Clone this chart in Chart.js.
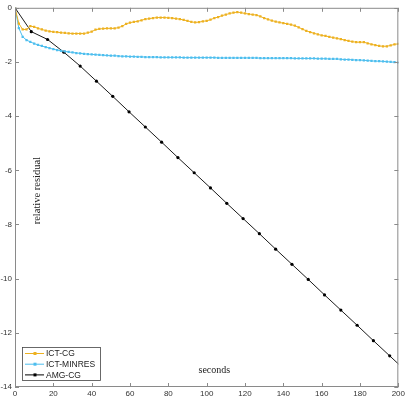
<!DOCTYPE html>
<html>
<head>
<meta charset="utf-8">
<script src="https://cdn.jsdelivr.net/npm/chart.js@4"></script>
<style>
  html, body { margin: 0; padding: 0; background: #fff; }
  #wrap { width: 407px; height: 399px; }
</style>
</head>
<body>
<div id="wrap"><canvas id="res"></canvas></div>
<script>
// time (s) for the ICT runs
var ictTime = [0, 2, 4, 6, 8, 10, 12, 14, 16, 18, 20, 22, 24, 26, 28, 30, 32, 34, 36, 38,
  40, 42, 44, 46, 48, 50, 52, 54, 56, 58, 60, 62, 64, 66, 68, 70, 72, 74, 76, 78,
  80, 82, 84, 86, 88, 90, 92, 94, 96, 98, 100, 102, 104, 106, 108, 110, 112, 114, 116, 118,
  120, 122, 124, 126, 128, 130, 132, 134, 136, 138, 140, 142, 144, 146, 148, 150, 152, 154, 156, 158,
  160, 162, 164, 166, 168, 170, 172, 174, 176, 178, 180, 182, 184, 186, 188, 190, 192, 194, 196, 198, 200];

var ictCG = [0, -0.58, -0.80, -0.80, -0.68, -0.70, -0.76, -0.80, -0.84, -0.87, -0.89, -0.90, -0.92, -0.93, -0.94, -0.95, -0.95, -0.95, -0.95, -0.92,
  -0.88, -0.81, -0.78, -0.77, -0.76, -0.76, -0.76, -0.73, -0.68, -0.59, -0.55, -0.52, -0.50, -0.46, -0.42, -0.40, -0.38, -0.36, -0.36, -0.36,
  -0.37, -0.38, -0.40, -0.42, -0.45, -0.48, -0.52, -0.54, -0.53, -0.50, -0.48, -0.44, -0.38, -0.34, -0.29, -0.25, -0.21, -0.18, -0.16, -0.18,
  -0.21, -0.23, -0.25, -0.27, -0.32, -0.38, -0.43, -0.47, -0.51, -0.54, -0.57, -0.59, -0.62, -0.66, -0.72, -0.79, -0.85, -0.90, -0.94, -0.98,
  -1.02, -1.04, -1.07, -1.10, -1.13, -1.16, -1.19, -1.22, -1.25, -1.27, -1.27, -1.27, -1.31, -1.35, -1.38, -1.41, -1.42, -1.42, -1.39, -1.35, -1.33];

var ictMINRES = [0, -0.75, -1.07, -1.19, -1.26, -1.32, -1.37, -1.41, -1.45, -1.49, -1.53, -1.56, -1.59, -1.61, -1.63, -1.65, -1.67, -1.68, -1.70, -1.71,
  -1.72, -1.73, -1.74, -1.75, -1.76, -1.77, -1.77, -1.78, -1.79, -1.79, -1.80, -1.80, -1.81, -1.81, -1.82, -1.82, -1.82, -1.82, -1.83, -1.83,
  -1.83, -1.83, -1.83, -1.83, -1.84, -1.84, -1.84, -1.84, -1.84, -1.84, -1.84, -1.84, -1.84, -1.85, -1.85, -1.85, -1.85, -1.85, -1.85, -1.85,
  -1.85, -1.85, -1.85, -1.85, -1.86, -1.86, -1.86, -1.86, -1.86, -1.86, -1.86, -1.86, -1.86, -1.87, -1.87, -1.87, -1.87, -1.87, -1.87, -1.88,
  -1.88, -1.88, -1.89, -1.89, -1.89, -1.90, -1.91, -1.91, -1.92, -1.93, -1.93, -1.94, -1.95, -1.96, -1.97, -1.97, -1.98, -1.99, -2.00, -2.01, -2.02];

// AMG-CG has its own sample times
var amgTime = [0, 8.5, 17, 25.5, 34, 42.5, 51, 59.5, 68, 76.5, 85, 93.5, 102, 110.5, 119, 127.5,
  136, 144.5, 153, 161.5, 170, 178.5, 187, 195.5, 204];
var amgCG = [0, -0.88, -1.17, -1.64, -2.15, -2.71, -3.27, -3.84, -4.40, -4.96, -5.53, -6.09, -6.65, -7.22, -7.78, -8.34,
  -8.91, -9.47, -10.03, -10.60, -11.16, -11.72, -12.29, -12.85, -13.41];

var xTicks = [0, 20, 40, 60, 80, 100, 120, 140, 160, 180, 200];
var yTicks = [0, -2, -4, -6, -8, -10, -12, -14];

function pts(xs, ys) {
  return xs.map(function (x, i) { return { x: x, y: ys[i] }; });
}

var axisGrey = '#8a8a8a';
var labelCol = '#333';

// box, inward ticks, in-plot axis titles and the legend
var decor = {
  id: 'decor',
  afterDraw: function (chart) {
    var c = chart.ctx, a = chart.chartArea;
    var xs = chart.scales.x, ys = chart.scales.y;
    c.save();
    c.strokeStyle = axisGrey;
    c.lineWidth = 1;
    c.strokeRect(a.left + 0.5, a.top + 0.5, a.right - a.left - 1, a.bottom - a.top - 1);
    c.beginPath();
    xTicks.forEach(function (t) {
      var p = Math.round(xs.getPixelForValue(t)) + 0.5;
      c.moveTo(p, a.bottom); c.lineTo(p, a.bottom - 4);
      c.moveTo(p, a.top); c.lineTo(p, a.top + 4);
    });
    yTicks.forEach(function (t) {
      var p = Math.round(ys.getPixelForValue(t)) + 0.5;
      c.moveTo(a.left, p); c.lineTo(a.left + 4, p);
      c.moveTo(a.right, p); c.lineTo(a.right - 4, p);
    });
    c.stroke();

    // axis titles sit inside the plot
    c.fillStyle = '#222';
    c.font = '10px "Liberation Serif"';
    c.textAlign = 'center';
    c.textBaseline = 'middle';
    c.fillText('seconds', xs.getPixelForValue(104), ys.getPixelForValue(-13.4));
    c.save();
    c.translate(xs.getPixelForValue(11.5), ys.getPixelForValue(-6.75));
    c.rotate(-Math.PI / 2);
    c.font = '10.5px "Liberation Serif"';
    c.fillText('relative residual', 0, 0);
    c.restore();

    // legend box, bottom left
    var lx = a.left + 7, ly = a.bottom - 40, lw = 78, lh = 33;
    c.fillStyle = '#fff';
    c.fillRect(lx, ly, lw, lh);
    c.strokeStyle = '#444';
    c.lineWidth = 0.8;
    c.strokeRect(lx + 0.5, ly + 0.5, lw, lh);
    c.font = '8.5px "Liberation Sans"';
    c.textAlign = 'left';
    chart.data.datasets.forEach(function (ds, i) {
      var yy = ly + 6.5 + i * 10.7;
      c.strokeStyle = ds.borderColor;
      c.lineWidth = 1;
      c.beginPath(); c.moveTo(lx + 3, yy); c.lineTo(lx + 22, yy); c.stroke();
      c.fillStyle = ds.pointBackgroundColor;
      c.fillRect(lx + 11.5, yy - 1.5, 3, 3);
      c.fillStyle = '#222';
      c.fillText(ds.label, lx + 24, yy + 0.5);
    });
    c.restore();
  }
};

new Chart(document.getElementById('res').getContext('2d'), {
  type: 'line',
  data: {
    datasets: [{
      label: 'ICT-CG',
      data: pts(ictTime, ictCG),
      borderColor: '#EDB120',
      backgroundColor: '#EDB120',
      pointBackgroundColor: '#EDB120',
      pointBorderWidth: 0,
      pointStyle: 'rect',
      pointRadius: 1.6,
      borderWidth: 1,
      tension: 0
    }, {
      label: 'ICT-MINRES',
      data: pts(ictTime, ictMINRES),
      borderColor: '#4DBEEE',
      backgroundColor: '#4DBEEE',
      pointBackgroundColor: '#4DBEEE',
      pointBorderWidth: 0,
      pointStyle: 'rect',
      pointRadius: 1.6,
      borderWidth: 1,
      tension: 0
    }, {
      label: 'AMG-CG',
      data: pts(amgTime, amgCG),
      borderColor: '#000',
      backgroundColor: '#000',
      pointBackgroundColor: '#000',
      pointBorderWidth: 0,
      pointRadius: 1.6,
      borderWidth: 0.9,
      tension: 0
    }]
  },
  options: {
    responsive: true,
    maintainAspectRatio: false,
    animation: false,
    events: [],
    clip: 0,
    layout: { padding: { left: 0, right: 8, top: 3, bottom: 0 } },
    plugins: { legend: { display: false }, tooltip: { enabled: false } },
    scales: {
      x: {
        type: 'linear',
        min: 0, max: 200,
        afterFit: function (s) { s.height = 12; },
        afterBuildTicks: function (s) { s.ticks = xTicks.map(function (v) { return { value: v }; }); },
        grid: { display: false, drawTicks: false },
        border: { display: false },
        ticks: { padding: 2, color: labelCol, font: { family: 'Liberation Sans', size: 8 }, maxRotation: 0 }
      },
      y: {
        min: -14, max: 0,
        afterFit: function (s) { s.width = 15; },
        afterBuildTicks: function (s) { s.ticks = yTicks.map(function (v) { return { value: v }; }); },
        grid: { display: false, drawTicks: false },
        border: { display: false },
        ticks: { padding: 3, color: labelCol, font: { family: 'Liberation Sans', size: 8 } }
      }
    }
  },
  plugins: [decor]
});
</script>
</body>
</html>
